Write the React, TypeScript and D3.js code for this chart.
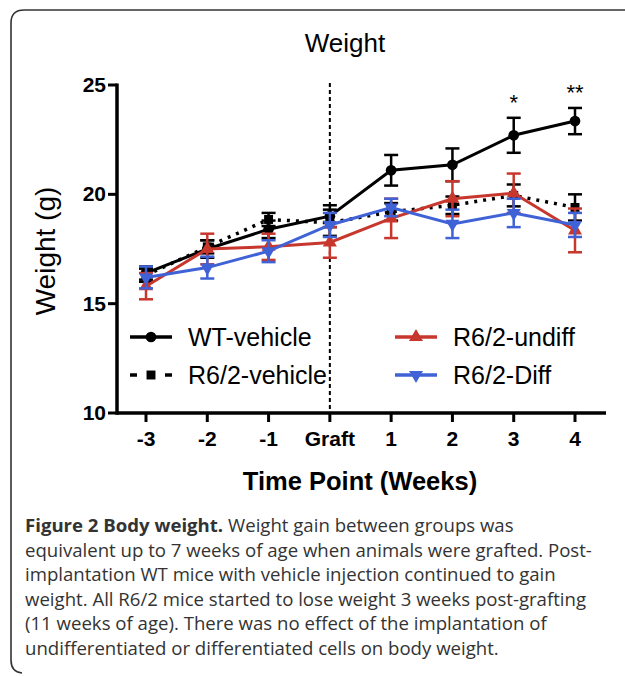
import { useEffect, useRef } from "react";
import * as d3 from "d3";

const W = 625;
const H = 676;

const TIME_POINTS = ["-3", "-2", "-1", "Graft", "1", "2", "3", "4"];
const Y_TICKS = [10, 15, 20, 25];

// mean body weight (g) and SEM per time point
const WT_MEAN = [16.4, 17.5, 18.4, 19.0, 21.1, 21.35, 22.7, 23.35];
const WT_SEM = [0.3, 0.4, 0.4, 0.5, 0.7, 0.75, 0.8, 0.6];
const VEH_MEAN = [16.3, 17.6, 18.85, 18.7, 19.2, 19.5, 19.95, 19.4];
const VEH_SEM = [0.3, 0.3, 0.3, 0.6, 0.4, 0.4, 0.5, 0.6];
const UNDIFF_MEAN = [15.8, 17.5, 17.6, 17.8, 18.9, 19.8, 20.05, 18.35];
const UNDIFF_SEM = [0.6, 0.7, 0.6, 0.7, 0.9, 0.8, 0.9, 1.0];
const DIFF_MEAN = [16.2, 16.65, 17.4, 18.6, 19.4, 18.65, 19.15, 18.6];
const DIFF_SEM = [0.5, 0.5, 0.5, 0.55, 0.4, 0.65, 0.65, 0.55];

const SIGNIF = [
  { at: "3", label: "*" },
  { at: "4", label: "**" },
];

const CAPTION_BOLD = "Figure 2 Body weight.";
const CAPTION_LINES = [
  " Weight gain between groups was",
  "equivalent up to 7 weeks of age when animals were grafted. Post-",
  "implantation WT mice with vehicle injection continued to gain",
  "weight. All R6/2 mice started to lose weight 3 weeks post-grafting",
  "(11 weeks of age). There was no effect of the implantation of",
  "undifferentiated or differentiated cells on body weight.",
];

type Series = {
  name: string;
  mean: number[];
  sem: number[];
  color: string;
  dash: string;
  marker: "circle" | "square" | "triangle" | "triangleDown";
};

const SERIES: Series[] = [
  { name: "WT-vehicle", mean: WT_MEAN, sem: WT_SEM, color: "#000000", dash: "none", marker: "circle" },
  { name: "R6/2-vehicle", mean: VEH_MEAN, sem: VEH_SEM, color: "#000000", dash: "3,6", marker: "square" },
  { name: "R6/2-undiff", mean: UNDIFF_MEAN, sem: UNDIFF_SEM, color: "#c8372d", dash: "none", marker: "triangle" },
  { name: "R6/2-Diff", mean: DIFF_MEAN, sem: DIFF_SEM, color: "#3f62d6", dash: "none", marker: "triangleDown" },
];

const FONT = "'Liberation Sans', Arial, sans-serif";

const MARKER_SYMBOL = {
  circle: d3.symbolCircle,
  square: d3.symbolSquare,
  triangle: d3.symbolTriangle,
  triangleDown: d3.symbolTriangle,
};

function drawMarker(g: d3.Selection<SVGGElement, unknown, null, undefined>, s: Series, x: number, y: number) {
  const size = s.marker === "circle" ? 90 : s.marker === "square" ? 80 : 85;
  g.append("path")
    .attr("d", d3.symbol().type(MARKER_SYMBOL[s.marker]).size(size)() as string)
    .attr("transform", `translate(${x},${y})${s.marker === "triangleDown" ? " rotate(180)" : ""}`)
    .attr("fill", s.color);
}

function draw(svgEl: SVGSVGElement) {
  const svg = d3.select(svgEl);
  svg.selectAll("*").remove();

  svg.append("rect").attr("width", W).attr("height", H).attr("fill", "white");

  // frame: left side + top with rounded corners
  svg.append("path")
    .attr("d", "M 640 10 L 24 10 Q 11 10 11 23 L 11 660 Q 11 672 22 673")
    .attr("fill", "none")
    .attr("stroke", "#333")
    .attr("stroke-width", 1.6);

  const x = d3.scalePoint<string>().domain(TIME_POINTS).range([146, 575]);
  const y = d3.scaleLinear().domain([10, 25]).range([413, 85]);
  const axisX0 = 117;
  const axisX1 = 606;

  const g = svg.append("g");

  // title
  g.append("text")
    .attr("x", 345).attr("y", 52)
    .attr("text-anchor", "middle")
    .attr("font-family", FONT).attr("font-size", 26)
    .text("Weight");

  // graft divider
  g.append("line")
    .attr("x1", x("Graft")!).attr("x2", x("Graft")!)
    .attr("y1", y(25) - 2).attr("y2", y(10))
    .attr("stroke", "#000").attr("stroke-width", 2)
    .attr("stroke-dasharray", "4,3");

  // series
  const line = d3.line<number>()
    .x((_, i) => x(TIME_POINTS[i])!)
    .y((d) => y(d));

  SERIES.forEach((s) => {
    const sg = g.append("g");
    s.mean.forEach((m, i) => {
      const cx = x(TIME_POINTS[i])!;
      const lo = y(m - s.sem[i]);
      const hi = y(m + s.sem[i]);
      sg.append("line")
        .attr("x1", cx).attr("x2", cx).attr("y1", lo).attr("y2", hi)
        .attr("stroke", s.color).attr("stroke-width", 2.5);
      [lo, hi].forEach((yy) => {
        sg.append("line")
          .attr("x1", cx - 7).attr("x2", cx + 7).attr("y1", yy).attr("y2", yy)
          .attr("stroke", s.color).attr("stroke-width", 2.5);
      });
    });
    sg.append("path")
      .attr("d", line(s.mean) as string)
      .attr("fill", "none")
      .attr("stroke", s.color)
      .attr("stroke-width", s.dash === "none" ? 3 : 3.5)
      .attr("stroke-dasharray", s.dash);
    s.mean.forEach((m, i) => drawMarker(sg, s, x(TIME_POINTS[i])!, y(m)));
  });

  // significance
  SIGNIF.forEach((d) => {
    const idx = TIME_POINTS.indexOf(d.at);
    const top = y(WT_MEAN[idx] + WT_SEM[idx]);
    g.append("text")
      .attr("x", x(d.at)!).attr("y", top - 8)
      .attr("text-anchor", "middle")
      .attr("font-family", FONT).attr("font-size", 22)
      .text(d.label);
  });

  // axes
  g.append("line")
    .attr("x1", axisX0).attr("x2", axisX0).attr("y1", y(25) - 1.5).attr("y2", y(10) + 1.75)
    .attr("stroke", "#000").attr("stroke-width", 3.5);
  g.append("line")
    .attr("x1", axisX0).attr("x2", axisX1).attr("y1", y(10)).attr("y2", y(10))
    .attr("stroke", "#000").attr("stroke-width", 3.5);

  Y_TICKS.forEach((v) => {
    g.append("line")
      .attr("x1", axisX0 - 9).attr("x2", axisX0).attr("y1", y(v)).attr("y2", y(v))
      .attr("stroke", "#000").attr("stroke-width", 3);
    g.append("text")
      .attr("x", axisX0 - 11).attr("y", y(v) + 7)
      .attr("text-anchor", "end")
      .attr("font-family", FONT).attr("font-size", 21).attr("font-weight", "bold")
      .text(v);
  });

  TIME_POINTS.forEach((t) => {
    const tx = x(t)!;
    g.append("line")
      .attr("x1", tx).attr("x2", tx).attr("y1", y(10)).attr("y2", y(10) + 9)
      .attr("stroke", "#000").attr("stroke-width", 3);
    g.append("text")
      .attr("x", tx).attr("y", 446)
      .attr("text-anchor", "middle")
      .attr("font-family", FONT).attr("font-size", 21).attr("font-weight", "bold")
      .text(t);
  });

  g.append("text")
    .attr("x", 360).attr("y", 490)
    .attr("text-anchor", "middle")
    .attr("font-family", FONT).attr("font-size", 25.5).attr("font-weight", "bold")
    .text("Time Point (Weeks)");

  g.append("text")
    .attr("transform", `translate(55,${(y(10) + y(25)) / 2 + 2}) rotate(-90)`)
    .attr("text-anchor", "middle")
    .attr("font-family", FONT).attr("font-size", 28)
    .text("Weight (g)");

  // legend
  const legendPos = [
    { x: 130, y: 337 },
    { x: 130, y: 375 },
    { x: 395, y: 337 },
    { x: 395, y: 375 },
  ];
  SERIES.forEach((s, i) => {
    const p = legendPos[i];
    const lg = g.append("g");
    if (s.dash === "none") {
      lg.append("line")
        .attr("x1", p.x).attr("x2", p.x + 42).attr("y1", p.y).attr("y2", p.y)
        .attr("stroke", s.color).attr("stroke-width", 3.5);
    } else {
      [[p.x, p.x + 7], [p.x + 35, p.x + 42]].forEach(([a, b]) => {
        lg.append("line")
          .attr("x1", a).attr("x2", b).attr("y1", p.y).attr("y2", p.y)
          .attr("stroke", s.color).attr("stroke-width", 3.5);
      });
    }
    drawMarker(lg, s, p.x + 21, p.y);
    lg.append("text")
      .attr("x", p.x + 58).attr("y", p.y + 9)
      .attr("font-family", FONT).attr("font-size", 25)
      .text(s.name);
  });

  // caption
  const cap = svg.append("text")
    .attr("font-family", "'Open Sans', sans-serif")
    .attr("font-size", 18.6)
    .attr("fill", "#333");
  CAPTION_LINES.forEach((ln, i) => {
    const t = cap.append("tspan").attr("x", 25).attr("y", 532 + i * 24.6);
    if (i === 0) {
      t.append("tspan").attr("font-weight", "bold").text(CAPTION_BOLD);
      cap.append("tspan").text(ln);
    } else {
      t.text(ln);
    }
  });
}

export default function App() {
  const ref = useRef<SVGSVGElement>(null);
  useEffect(() => {
    if (ref.current) draw(ref.current);
  }, []);
  return (
    <svg
      ref={ref}
      width={W}
      height={H}
      style={{ position: "absolute", left: 0, top: 0, display: "block" }}
    />
  );
}
